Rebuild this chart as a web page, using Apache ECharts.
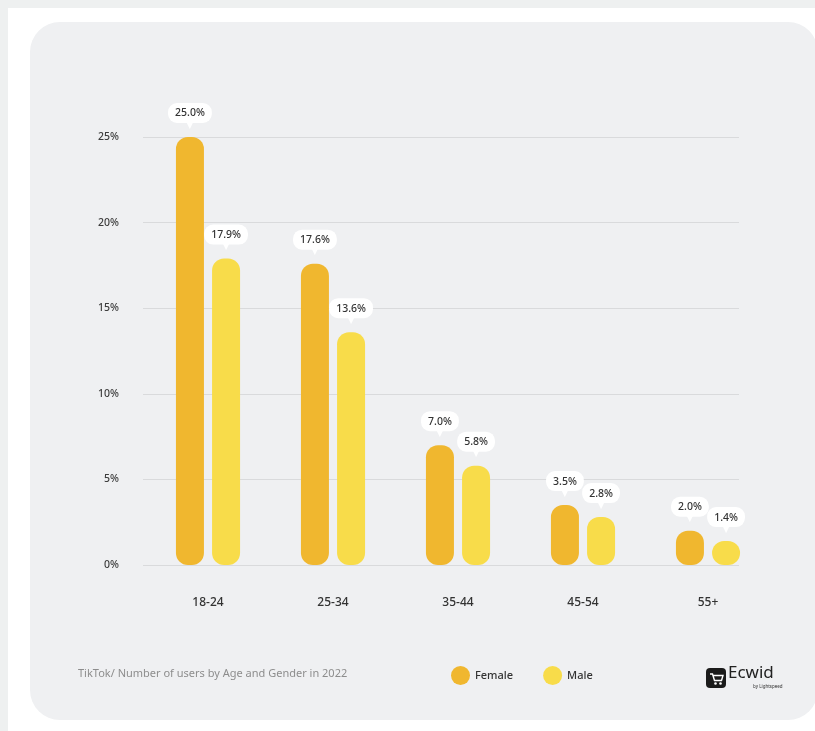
<!DOCTYPE html>
<html>
<head>
<meta charset="utf-8">
<script src="https://cdn.jsdelivr.net/npm/echarts@6/dist/echarts.min.js"></script>
<style>
  html, body { margin: 0; padding: 0; width: 815px; height: 731px; overflow: hidden; background: #eef0f0; }
  #sheet { position: absolute; left: 8px; top: 8px; right: 0; bottom: 0; background: #ffffff; }
  #card { position: absolute; left: 30px; top: 22px; width: 788px; height: 698px; background: #eff0f2; border-radius: 30px; }
  #chart { position: absolute; left: 0; top: 0; width: 815px; height: 731px; }
</style>
</head>
<body>
<div id="sheet"></div>
<div id="card"></div>
<div id="chart"></div>
<script>
// TikTok users by age group and gender, 2022 (share of all users, %)
const categories = ['18-24', '25-34', '35-44', '45-54', '55+'];
const female = [25.0, 17.6, 7.0, 3.5, 2.0];
const male = [17.9, 13.6, 5.8, 2.8, 1.4];
const yTicks = { min: 0, max: 25, step: 5 };

const FONT = '"Noto Sans", "Open Sans", sans-serif';
const FEMALE_COLOR = '#f0b72f';
const MALE_COLOR = '#f8dc4a';

// value callout: white rounded box with a small pointer underneath
const callout = {
  show: true,
  position: 'top',
  distance: 9,
  formatter: p => '{b|' + p.value.toFixed(1) + '%}\n{t|▼}',
  rich: {
    b: {
      backgroundColor: '#ffffff',
      borderRadius: 9,
      padding: [5, 7, 4, 7],
      fontSize: 10.5,
      fontWeight: 500,
      color: '#333333',
      fontFamily: FONT,
      align: 'center'
    },
    t: {
      fontSize: 8,
      lineHeight: 5,
      color: '#ffffff',
      align: 'center',
      fontFamily: 'DejaVu Sans'
    }
  }
};

const chart = echarts.init(document.getElementById('chart'), null, { renderer: 'canvas' });

chart.setOption({
  backgroundColor: 'transparent',
  animation: false,
  textStyle: { fontFamily: FONT },
  title: {
    text: 'TikTok/ Number of users by Age and Gender in 2022',
    left: 78,
    top: 668,
    padding: 0,
    textStyle: { fontSize: 11, fontWeight: 'normal', color: '#8d8d8d', fontFamily: FONT }
  },
  legend: {
    left: 446,
    top: 661,
    icon: 'circle',
    itemWidth: 19,
    itemHeight: 19,
    itemGap: 30,
    textStyle: { fontSize: 11, color: '#333333', fontWeight: 500, fontFamily: FONT },
    data: ['Female', 'Male']
  },
  grid: [
    // bars
    { left: 145.5, right: 44.5, top: 137, bottom: 166 },
    // horizontal guide lines and percentage scale
    { left: 143, right: 76, top: 137, bottom: 166 }
  ],
  xAxis: [
    {
      type: 'category',
      gridIndex: 0,
      data: categories,
      axisLine: { show: false },
      axisTick: { show: false },
      axisLabel: { margin: 32, fontSize: 12, color: '#333333', fontWeight: 500, fontFamily: FONT }
    },
    {
      type: 'value',
      gridIndex: 1,
      show: false
    }
  ],
  yAxis: [
    {
      type: 'value',
      gridIndex: 0,
      min: yTicks.min,
      max: yTicks.max,
      interval: yTicks.step,
      axisLabel: { show: false },
      axisLine: { show: false },
      axisTick: { show: false },
      splitLine: { show: false }
    },
    {
      type: 'value',
      gridIndex: 1,
      min: yTicks.min,
      max: yTicks.max,
      interval: yTicks.step,
      axisLine: { show: false },
      axisTick: { show: false },
      axisLabel: {
        formatter: '{value}%',
        margin: 24,
        fontSize: 10.5,
        fontWeight: 500,
        color: '#3c3c3c',
        fontFamily: FONT
      },
      splitLine: { show: true, lineStyle: { color: '#d9dadc', width: 1 } }
    }
  ],
  series: [
    {
      name: 'Female',
      type: 'bar',
      xAxisIndex: 0,
      yAxisIndex: 0,
      data: female,
      barWidth: 28,
      barGap: '29%',
      itemStyle: { color: FEMALE_COLOR, borderRadius: 12 },
      label: callout,
      z: 3
    },
    {
      name: 'Male',
      type: 'bar',
      xAxisIndex: 0,
      yAxisIndex: 0,
      data: male,
      barWidth: 28,
      barGap: '29%',
      itemStyle: { color: MALE_COLOR, borderRadius: 12 },
      label: callout,
      z: 3
    }
  ],
  graphic: [
    {
      type: 'group',
      left: 706,
      top: 665,
      children: [
        { type: 'rect', shape: { x: 0, y: 0, width: 20, height: 20, r: 4 }, style: { fill: '#1b1b1b' } },
        {
          type: 'polyline',
          shape: { points: [[4, 6], [6.5, 6], [8.5, 12.5], [15.5, 12.5], [17, 7.5], [7.5, 7.5]] },
          style: { stroke: '#ffffff', lineWidth: 1.4, fill: null }
        },
        { type: 'circle', shape: { cx: 9.5, cy: 15.5, r: 1.3 }, style: { fill: '#ffffff' } },
        { type: 'circle', shape: { cx: 14.5, cy: 15.5, r: 1.3 }, style: { fill: '#ffffff' } },
        {
          type: 'text',
          x: 22, y: -3,
          style: { text: 'Ecwid', fontSize: 17, fontFamily: FONT, fill: '#222222' }
        },
        {
          type: 'text',
          x: 47, y: 16,
          style: { text: 'by Lightspeed', fontSize: 4.5, fontFamily: FONT, fill: '#333333' }
        }
      ]
    }
  ]
});
</script>
</body>
</html>
